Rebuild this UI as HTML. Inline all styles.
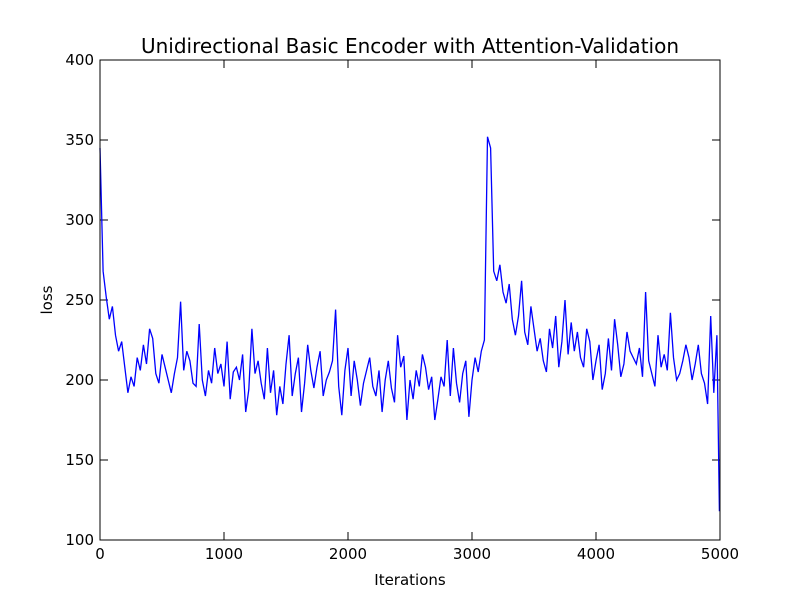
<!DOCTYPE html>
<html><head><meta charset="utf-8"><style>
body{margin:0;background:#fff;}
svg{display:block;font-family:"DejaVu Sans","Liberation Sans",sans-serif;}
</style></head><body>
<svg id="chart" width="800" height="600">
<rect x="0" y="0" width="800" height="600" fill="#fff"/>
<text x="410" y="53" text-anchor="middle" font-size="20">Unidirectional Basic Encoder with Attention-Validation</text>
<g id="ticks"></g>
<path id="line" fill="none" stroke="#0000ff" stroke-width="1.3"/>
<rect x="100" y="60" width="620" height="480" fill="none" stroke="#000" stroke-width="1"/>
<text x="410" y="585" text-anchor="middle" font-size="15">Iterations</text>
<text x="52" y="300" text-anchor="middle" font-size="15" transform="rotate(-90 52 300)">loss</text>
</svg>
<script>
const xTicks=[0,1000,2000,3000,4000,5000];
const yTicks=[100,150,200,250,300,350,400];
const step=25;
const lossValues=[
345,268,252,238,246,228,218,224,208,192,
202,196,214,206,222,210,232,226,204,198,
216,208,200,192,204,214,249,206,218,212,
198,196,235,200,190,206,198,220,204,210,
196,224,188,205,208,200,216,180,194,232,
204,212,198,188,220,192,206,178,196,185,
210,228,190,204,214,180,198,222,206,195,
208,218,190,200,205,212,244,196,178,206,
220,190,212,200,184,198,206,214,196,190,
206,180,200,212,195,186,228,208,215,175,
200,188,206,196,216,208,194,202,175,188,
202,196,225,190,220,198,186,204,212,177,
200,214,205,218,225,352,345,268,262,272,
255,248,260,238,228,240,262,230,222,246,
232,218,226,212,205,232,220,240,208,224,
250,216,236,218,230,214,208,232,224,200,
212,222,194,204,226,206,238,222,202,210,
230,218,214,210,220,202,255,212,204,196,
228,208,216,206,242,214,200,204,212,222,
214,200,210,222,204,198,185,240,192,228,
118];
const x=v=>100+v/5000*620;
const y=v=>540-(v-100)/300*480;
const tg=document.getElementById('ticks');
const NS='http://www.w3.org/2000/svg';
xTicks.forEach(t=>{
  for(const [y1,y2] of [[540,532],[60,68]]){
    const l=document.createElementNS(NS,'line');
    l.setAttribute('x1',x(t));l.setAttribute('x2',x(t));l.setAttribute('y1',y1);l.setAttribute('y2',y2);l.setAttribute('stroke','#000');
    
    
    tg.appendChild(l);
  }
  const tx=document.createElementNS(NS,'text');
  tx.setAttribute('x',x(t));tx.setAttribute('y',559);tx.setAttribute('text-anchor','middle');tx.setAttribute('font-size','15');
  tx.textContent=t;
  
  
  tg.appendChild(tx);
});
yTicks.forEach(t=>{
  for(const [x1,x2] of [[100,108],[720,712]]){
    const l=document.createElementNS(NS,'line');
    l.setAttribute('y1',y(t));l.setAttribute('y2',y(t));l.setAttribute('x1',x1);l.setAttribute('x2',x2);l.setAttribute('stroke','#000');
    
    
    tg.appendChild(l);
  }
  const tx=document.createElementNS(NS,'text');
  tx.setAttribute('x',94);tx.setAttribute('y',y(t)+5);tx.setAttribute('text-anchor','end');tx.setAttribute('font-size','15');
  tx.textContent=t;
  
  
  tg.appendChild(tx);
});
let d='';
lossValues.forEach((v,i)=>{
  const it=Math.min(i*step,4995);
  d+=(i?'L':'M')+x(it).toFixed(1)+','+y(v).toFixed(1);
});
document.getElementById('line').setAttribute('d',d);
</script>
</body></html>
